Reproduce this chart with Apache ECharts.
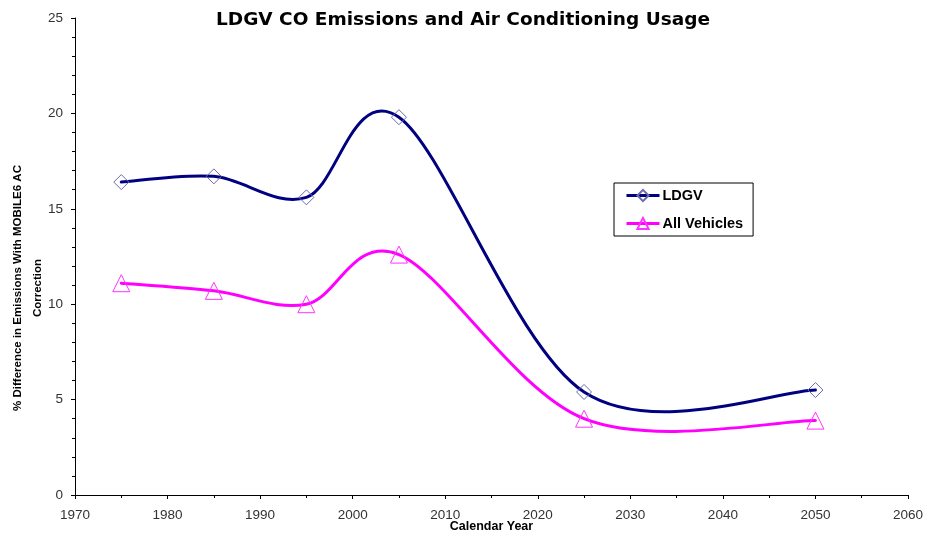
<!DOCTYPE html>
<html><head><meta charset="utf-8">
<script src="https://cdn.jsdelivr.net/npm/echarts@6/dist/echarts.min.js"></script>
<style>html,body{margin:0;padding:0;background:#fff}#c{width:926px;height:536px}</style>
</head><body><div id="c"></div>
<script>
const years = [1975, 1985, 1995, 2005, 2025, 2050];
const ldgv = [16.4, 16.7, 15.6, 19.8, 5.4, 5.5];
const allVehicles = [11.1, 10.7, 10.0, 12.6, 4.0, 3.9];
const seriesNames = ['LDGV', 'All Vehicles'];
const titleText = 'LDGV CO Emissions and Air Conditioning Usage';
const xName = 'Calendar Year';
const yName = '% Difference in Emissions With MOBILE6 AC\nCorrection';

const font = 'Liberation Sans, Arial, sans-serif';
const colors = { ldgv: '#000080', ldgvMark: '#6a6aae', all: '#ff00ff', allMark: '#ff33ff' };
const chart = echarts.init(document.getElementById('c'));
const pair = (xs, ys) => xs.map((x, i) => [x, ys[i]]);

// Excel-style smoothed curve (Catmull-Rom, tension 1/6) in pixel space via the axes' scales
function smoothCurve(xs, ys, color) {
  return function (params, api) {
    if (params.dataIndex !== 0) return null;
    const p = xs.map((x, i) => api.coord([x, ys[i]]));
    const n = p.length;
    const at = i => p[Math.max(0, Math.min(n - 1, i))];
    let d = 'M' + p[0][0] + ' ' + p[0][1];
    for (let i = 0; i < n - 1; i++) {
      const a = at(i - 1), b = at(i), c = at(i + 1), e = at(i + 2);
      const c1x = b[0] + (c[0] - a[0]) / 6, c1y = b[1] + (c[1] - a[1]) / 6;
      const c2x = c[0] - (e[0] - b[0]) / 6, c2y = c[1] - (e[1] - b[1]) / 6;
      d += ' C' + c1x + ' ' + c1y + ' ' + c2x + ' ' + c2y + ' ' + c[0] + ' ' + c[1];
    }
    return { type: 'path', shape: { pathData: d },
      style: { stroke: color, lineWidth: 3, fill: null, lineJoin: 'round', lineCap: 'round' } };
  };
}

chart.setOption({
  animation: false,
  backgroundColor: '#fff',
  title: { text: titleText, left: 'center', top: 6,
    textStyle: { fontFamily: 'DejaVu Sans, sans-serif', fontSize: 18.5, fontWeight: 'bold', color: '#000' } },
  grid: { left: 75, right: 18, top: 18, bottom: 41, containLabel: false, outerBoundsMode: 'none' },
  legend: {
    orient: 'vertical', left: 614, top: 183,
    padding: [5, 10, 5, 11], itemGap: 13, itemWidth: 33, itemHeight: 14,
    borderColor: '#000', borderWidth: 1, backgroundColor: '#fff',
    textStyle: { fontFamily: font, fontSize: 14.5, fontWeight: 'bold', color: '#000', padding: [0, 0, 0, -2] },
    data: [
      { name: seriesNames[0], lineStyle: { color: colors.ldgv, width: 3, opacity: 1 } },
      { name: seriesNames[1], lineStyle: { color: colors.all, width: 3, opacity: 1 } }
    ]
  },
  graphic: [{
    type: 'text', x: 28, y: 288, rotation: Math.PI / 2,
    style: { text: yName, font: 'bold 11.5px ' + font, fill: '#000', align: 'center', verticalAlign: 'middle', lineHeight: 20 }
  }],
  xAxis: {
    type: 'value', min: 1970, max: 2060, interval: 10,
    name: xName, nameLocation: 'middle', nameGap: 25, nameMoveOverlap: false,
    nameTextStyle: { fontFamily: font, fontSize: 12.5, fontWeight: 'bold', color: '#000' },
    axisLine: { lineStyle: { color: '#000', width: 1 } },
    axisTick: { show: true, length: 4, lineStyle: { color: '#000' } },
    minorTick: { show: true, splitNumber: 2, length: 3, lineStyle: { color: '#000' } },
    splitLine: { show: false },
    axisLabel: { fontFamily: font, fontSize: 13.5, color: '#333', margin: 13, formatter: v => String(v) }
  },
  yAxis: {
    type: 'value', min: 0, max: 25, interval: 5,
    axisLine: { show: true, lineStyle: { color: '#000', width: 1 } },
    axisTick: { show: true, length: 4, lineStyle: { color: '#000' } },
    minorTick: { show: true, splitNumber: 5, length: 3, lineStyle: { color: '#000' } },
    splitLine: { show: false },
    axisLabel: { fontFamily: font, fontSize: 13.5, color: '#333', margin: 12 }
  },
  series: [{
    name: seriesNames[0] + ' curve', type: 'custom', data: pair(years, ldgv),
    renderItem: smoothCurve(years, ldgv, colors.ldgv), z: 2, silent: true
  }, {
    name: seriesNames[1] + ' curve', type: 'custom', data: pair(years, allVehicles),
    renderItem: smoothCurve(years, allVehicles, colors.all), z: 2, silent: true
  }, {
    name: seriesNames[0], type: 'line',
    data: pair(years, ldgv),
    symbol: 'diamond', symbolSize: 15,
    lineStyle: { color: colors.ldgv, width: 3, opacity: 0 },
    itemStyle: { color: 'rgba(255,255,255,0)', borderColor: colors.ldgvMark, borderWidth: 1 },
    z: 3
  }, {
    name: seriesNames[1], type: 'line',
    data: pair(years, allVehicles),
    symbol: 'triangle', symbolSize: 17,
    lineStyle: { color: colors.all, width: 3, opacity: 0 },
    itemStyle: { color: 'rgba(255,255,255,0)', borderColor: colors.allMark, borderWidth: 1 },
    z: 3
  }]
});
</script></body></html>
